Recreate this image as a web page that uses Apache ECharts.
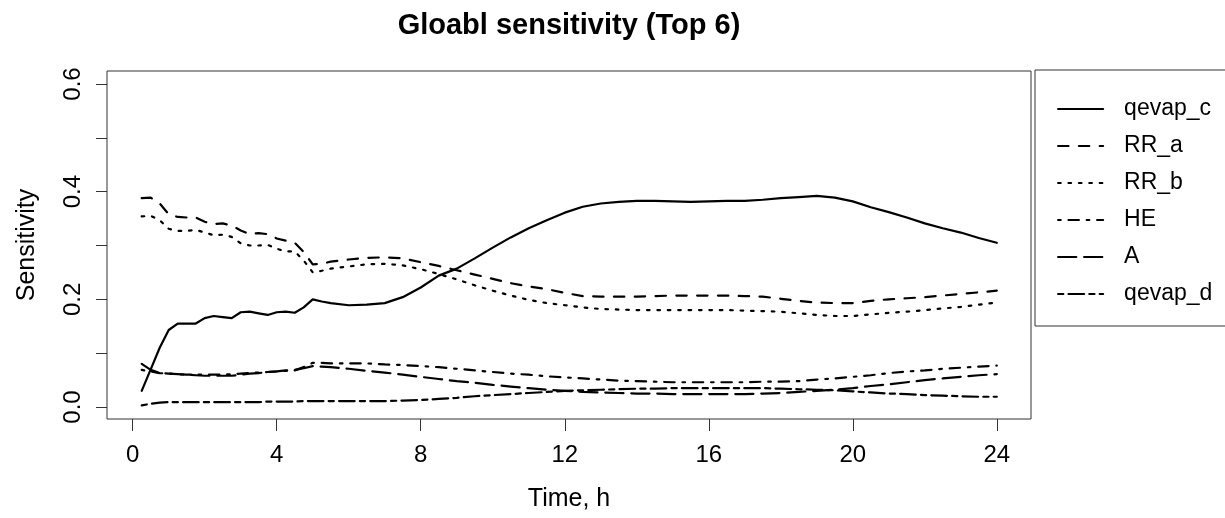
<!DOCTYPE html>
<html>
<head>
<meta charset="utf-8">
<title>Gloabl sensitivity (Top 6)</title>
<script src="https://cdn.jsdelivr.net/npm/echarts@6/dist/echarts.min.js"></script>
<style>
  html, body { margin: 0; padding: 0; background: #fff; }
  #chart { width: 1225px; height: 518px; }
</style>
</head>
<body>
<div id="chart"></div>
<script>
// Sampling times (hours)
const times = [0.25, 0.5, 0.75, 1, 1.25, 1.5, 1.75, 2, 2.25, 2.5, 2.75, 3, 3.25, 3.5, 3.75, 4, 4.25, 4.5, 4.75, 5, 5.25, 5.5,
  6, 6.5, 7, 7.5, 8, 8.5, 9, 9.5, 10, 10.5, 11, 11.5, 12, 12.5, 13, 13.5, 14, 14.5, 15, 15.5, 16, 16.5, 17, 17.5,
  18, 18.5, 19, 19.5, 20, 20.5, 21, 21.5, 22, 22.5, 23, 23.5, 24];

// Sensitivity of each parameter over time
const qevap_c = [0.030, 0.070, 0.110, 0.143, 0.155, 0.155, 0.155, 0.165, 0.169, 0.167, 0.165, 0.176, 0.177, 0.174, 0.171, 0.176, 0.177, 0.175, 0.185, 0.200, 0.196, 0.193,
  0.189, 0.190, 0.193, 0.204, 0.222, 0.244, 0.257, 0.276, 0.296, 0.315, 0.332, 0.347, 0.361, 0.372, 0.378, 0.381, 0.383, 0.383, 0.382, 0.381, 0.382, 0.383, 0.383, 0.385,
  0.388, 0.390, 0.392, 0.389, 0.382, 0.371, 0.362, 0.352, 0.341, 0.332, 0.324, 0.314, 0.305];
const RR_a = [0.388, 0.389, 0.378, 0.358, 0.353, 0.352, 0.352, 0.344, 0.340, 0.341, 0.337, 0.328, 0.321, 0.323, 0.321, 0.313, 0.309, 0.305, 0.288, 0.265, 0.266, 0.270,
  0.274, 0.277, 0.278, 0.276, 0.269, 0.262, 0.254, 0.246, 0.238, 0.230, 0.224, 0.219, 0.212, 0.206, 0.205, 0.205, 0.205, 0.206, 0.207, 0.207, 0.207, 0.207, 0.206, 0.205,
  0.201, 0.197, 0.194, 0.193, 0.193, 0.197, 0.200, 0.202, 0.204, 0.207, 0.210, 0.213, 0.216];
const RR_b = [0.354, 0.355, 0.347, 0.331, 0.327, 0.327, 0.329, 0.324, 0.319, 0.320, 0.316, 0.304, 0.300, 0.300, 0.301, 0.294, 0.289, 0.289, 0.272, 0.250, 0.253, 0.257,
  0.261, 0.265, 0.266, 0.263, 0.256, 0.247, 0.237, 0.226, 0.216, 0.207, 0.199, 0.193, 0.189, 0.185, 0.182, 0.181, 0.180, 0.180, 0.180, 0.180, 0.180, 0.180, 0.179, 0.178,
  0.177, 0.174, 0.171, 0.169, 0.169, 0.172, 0.175, 0.177, 0.180, 0.183, 0.186, 0.190, 0.194];
const HE = [0.069, 0.066, 0.063, 0.062, 0.061, 0.060, 0.060, 0.060, 0.060, 0.060, 0.061, 0.062, 0.063, 0.064, 0.065, 0.066, 0.067, 0.068, 0.074, 0.082, 0.082, 0.081,
  0.081, 0.081, 0.079, 0.078, 0.076, 0.074, 0.071, 0.068, 0.065, 0.062, 0.060, 0.057, 0.055, 0.053, 0.051, 0.049, 0.048, 0.047, 0.046, 0.046, 0.046, 0.046, 0.046, 0.047,
  0.047, 0.048, 0.051, 0.053, 0.056, 0.059, 0.063, 0.066, 0.068, 0.071, 0.073, 0.075, 0.077];
const A = [0.080, 0.069, 0.063, 0.062, 0.061, 0.060, 0.059, 0.058, 0.058, 0.058, 0.058, 0.060, 0.062, 0.063, 0.065, 0.066, 0.068, 0.069, 0.072, 0.076, 0.075, 0.074,
  0.071, 0.067, 0.064, 0.060, 0.056, 0.052, 0.048, 0.045, 0.041, 0.038, 0.035, 0.032, 0.030, 0.028, 0.027, 0.026, 0.025, 0.025, 0.024, 0.024, 0.024, 0.024, 0.024, 0.025,
  0.026, 0.028, 0.030, 0.032, 0.035, 0.039, 0.042, 0.046, 0.050, 0.053, 0.056, 0.059, 0.061];
const qevap_d = [0.003, 0.006, 0.008, 0.009, 0.009, 0.009, 0.009, 0.009, 0.009, 0.009, 0.009, 0.009, 0.009, 0.009, 0.010, 0.010, 0.010, 0.010, 0.011, 0.011, 0.011, 0.011,
  0.011, 0.011, 0.011, 0.012, 0.013, 0.015, 0.017, 0.020, 0.022, 0.024, 0.026, 0.028, 0.030, 0.031, 0.032, 0.033, 0.034, 0.034, 0.035, 0.035, 0.035, 0.035, 0.035, 0.035,
  0.034, 0.033, 0.032, 0.031, 0.029, 0.027, 0.025, 0.024, 0.022, 0.021, 0.020, 0.019, 0.019];

// Axis ticks and labels
const xTicks = [0, 4, 8, 12, 16, 20, 24];
const yTicks = [0, 0.1, 0.2, 0.3, 0.4, 0.5, 0.6];
const yLabels = [0, 0.2, 0.4, 0.6];

const seriesNames = ['qevap_c', 'RR_a', 'RR_b', 'HE', 'A', 'qevap_d'];
const seriesValues = [qevap_c, RR_a, RR_b, HE, A, qevap_d];

// Line patterns in the style of R's lty 1..6 (unit = 2.6px)
const u = 2.6;
const dashes = [
  'solid',
  [4 * u, 4 * u],
  [1 * u, 3 * u],
  [1 * u, 3 * u, 4 * u, 3 * u],
  [7 * u, 3 * u],
  [2 * u, 2 * u, 6 * u, 2 * u]
];

const font = 'Liberation Sans, Arial, Helvetica, sans-serif';
const lineW = 2.2;

const chart = echarts.init(document.getElementById('chart'), null, { renderer: 'canvas' });

const series = seriesNames.map((name, i) => ({
  name: name,
  type: 'line',
  data: times.map((t, j) => [t, seriesValues[i][j]]),
  symbol: 'none',
  showSymbol: false,
  smooth: false,
  silent: true,
  lineStyle: { color: '#000', width: lineW, type: dashes[i], cap: 'round', join: 'round' },
  itemStyle: { color: '#000' },
  emphasis: { disabled: true }
}));

chart.setOption({
  animation: false,
  backgroundColor: '#fff',
  title: {
    text: 'Gloabl sensitivity (Top 6)',
    left: 564,
    top: 6,
    textAlign: 'center',
    textStyle: { fontFamily: font, fontSize: 29, fontWeight: 'bold', color: '#000' }
  },
  grid: {
    left: 107, top: 71, width: 924, height: 348,
    show: true, borderColor: '#333', borderWidth: 1, backgroundColor: 'transparent',
    containLabel: false
  },
  xAxis: {
    type: 'value',
    min: -0.714, max: 24.95,
    name: 'Time, h',
    nameLocation: 'middle',
    nameGap: 68,
    nameMoveOverlap: false,
    nameTextStyle: { fontFamily: font, fontSize: 25, color: '#000' },
    axisLine: { show: false, onZero: false },
    splitLine: { show: false },
    axisTick: { show: true, customValues: xTicks, length: 12, lineStyle: { color: '#333', width: 1 } },
    axisLabel: { customValues: xTicks, margin: 24, fontFamily: font, fontSize: 24, color: '#000' }
  },
  yAxis: {
    type: 'value',
    min: -0.0223, max: 0.6241,
    name: 'Sensitivity',
    nameLocation: 'middle',
    nameGap: 67,
    nameRotate: 90,
    nameMoveOverlap: false,
    nameTextStyle: { fontFamily: font, fontSize: 25, color: '#000' },
    axisLine: { show: false, onZero: false },
    splitLine: { show: false },
    axisTick: { show: true, customValues: yTicks, length: 11, lineStyle: { color: '#333', width: 1 } },
    axisLabel: {
      customValues: yLabels, rotate: 90, margin: 22,
      fontFamily: font, fontSize: 24, color: '#000',
      formatter: v => v.toFixed(1)
    }
  },
  legend: {
    orient: 'vertical',
    left: 1035, top: 70,
    padding: [27, 200, 20, 22],
    borderColor: '#333', borderWidth: 1,
    backgroundColor: '#fff',
    itemWidth: 45, itemHeight: 24, itemGap: 13,
    selectedMode: false,
    itemStyle: { color: 'transparent', borderWidth: 0, opacity: 0 },
    lineStyle: { width: lineW },
    textStyle: { fontFamily: font, fontSize: 23, lineHeight: 24, color: '#000', padding: [0, 0, 0, 16] },
    data: seriesNames
  },
  series: series
});
</script>
</body>
</html>
